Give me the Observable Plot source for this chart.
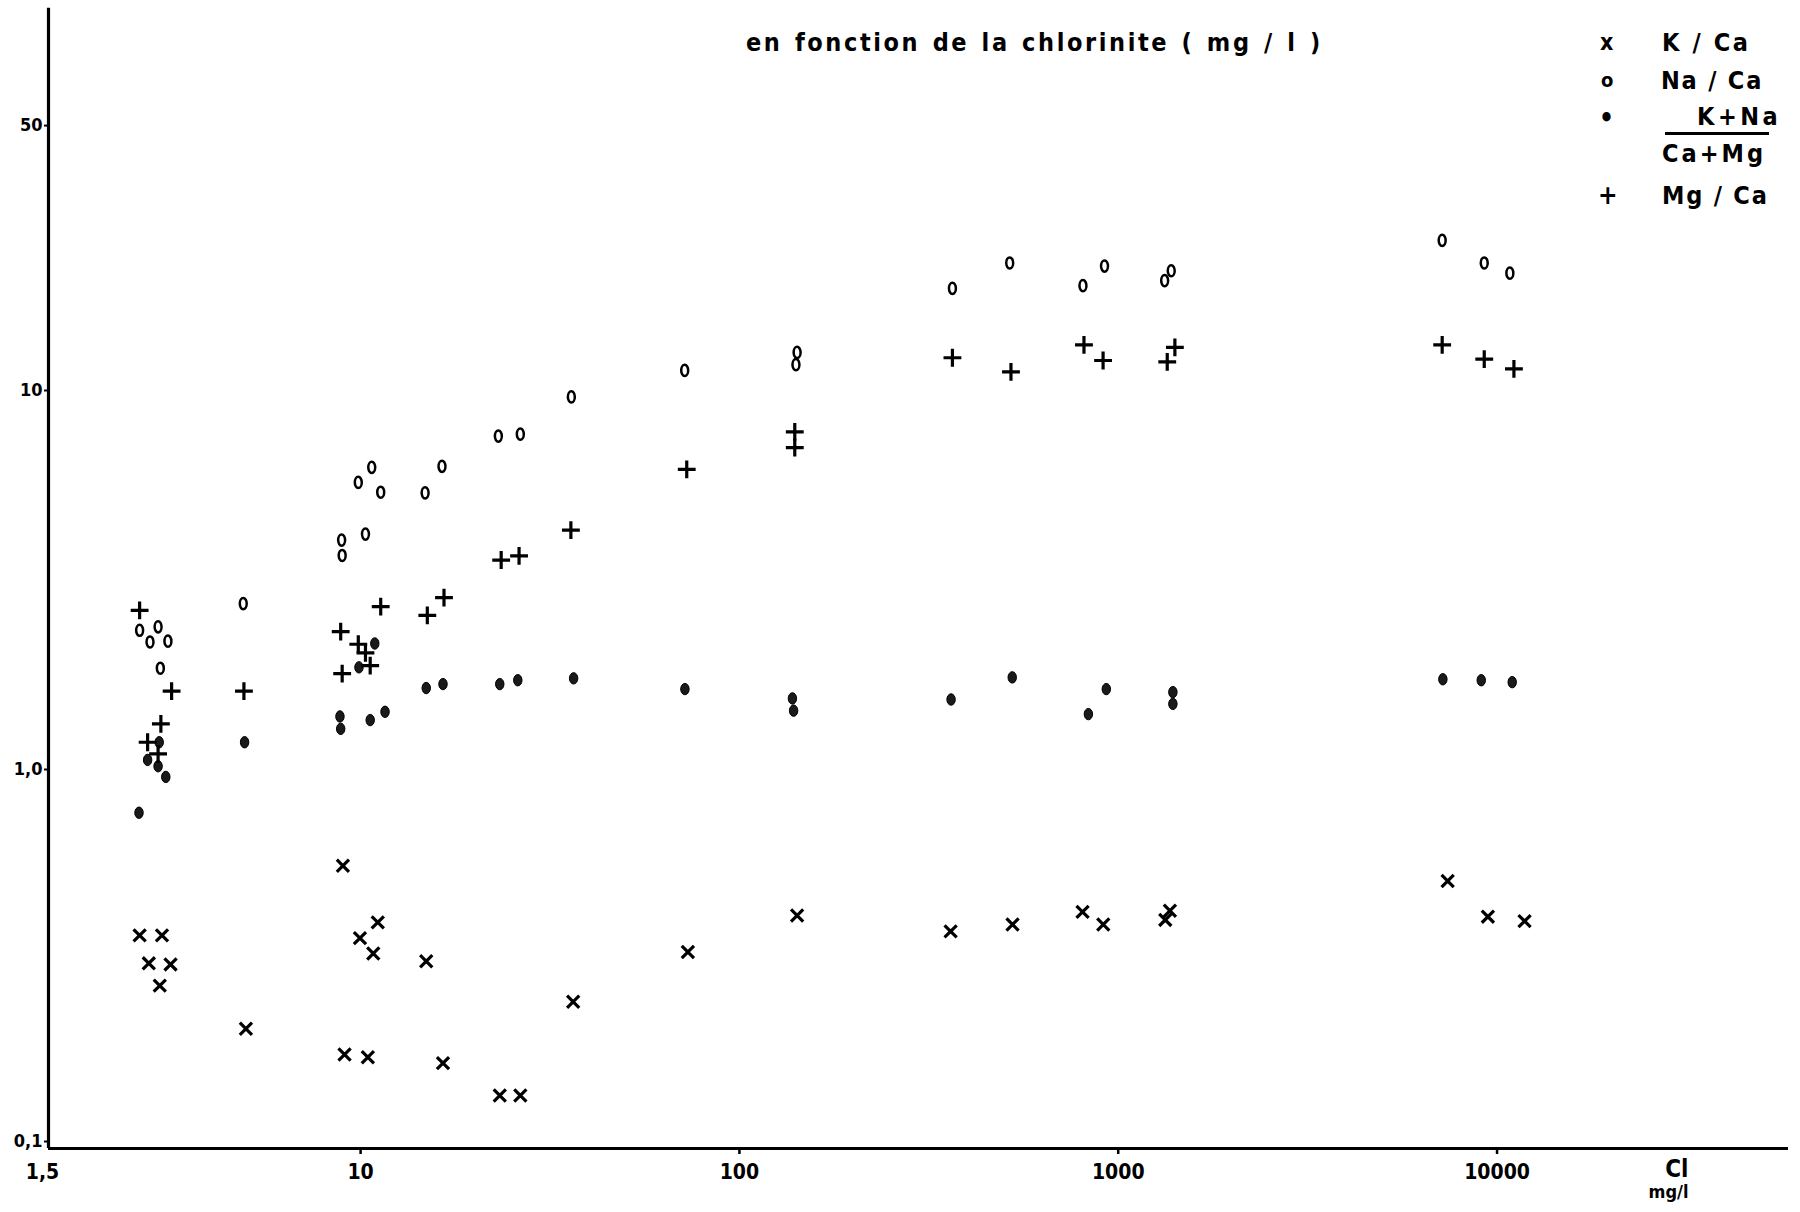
<!DOCTYPE html>
<html lang="fr">
<head>
<meta charset="utf-8">
<title>Rapports ioniques en fonction de la chlorinite</title>
<script src="https://cdn.jsdelivr.net/npm/d3@7"></script>
<script src="https://cdn.jsdelivr.net/npm/@observablehq/plot@0.6"></script>
<style>
  html, body { margin:0; padding:0; background:#fff; }
  #wrap { position:relative; width:1800px; height:1212px; overflow:hidden; background:#fff; }
  #wrap svg { position:absolute; left:0; top:0; }
  .lbl { position:absolute; font-family:"DejaVu Sans Condensed","DejaVu Sans",sans-serif; font-stretch:condensed; font-weight:bold; color:#000; white-space:nowrap; line-height:1; transform:translateY(-50%); }
</style>
</head>
<body>
<div id="wrap"></div>
<script>
// ---------- data ----------
const titleText = "en fonction de la chlorinite ( mg / l )";
const xTicks = [1.5, 10, 100, 1000, 10000];
const xTickLabels = ["1,5", "10", "100", "1000", "10000"];
const yTicks = [0.1, 1, 10, 50];
const yTickLabels = ["0,1", "1,0", "10", "50"];
const xAxisTitle = "Cl";
const xAxisUnit = "mg/l";

// K / Ca  (x)
const kCaX = [2.61, 2.99, 2.76, 3.15, 2.95, 4.98, 8.98, 9.96, 11.1, 10.8, 9.07, 10.45, 14.9, 16.5, 23.3, 26.4, 36.4, 73.1, 142, 361, 526, 805, 913, 1331, 1369, 7407, 9459, 11820];
const kCaY = [0.365, 0.365, 0.308, 0.306, 0.269, 0.207, 0.557, 0.359, 0.395, 0.327, 0.177, 0.174, 0.312, 0.168, 0.138, 0.138, 0.244, 0.330, 0.412, 0.374, 0.390, 0.421, 0.390, 0.401, 0.424, 0.508, 0.409, 0.398];

// Na / Ca  (o)
const naCaX = [2.61, 2.92, 2.78, 3.10, 2.96, 4.90, 8.91, 8.94, 10.3, 9.86, 10.7, 11.3, 14.8, 16.4, 23.1, 26.4, 36.0, 71.7, 141, 142, 365, 517, 807, 920, 1326, 1380, 7164, 9251, 10810];
const naCaY = [2.33, 2.38, 2.17, 2.18, 1.85, 2.74, 4.03, 3.67, 4.18, 5.72, 6.27, 5.39, 5.37, 6.31, 7.58, 7.67, 9.62, 11.3, 11.7, 12.6, 18.6, 21.7, 18.9, 21.3, 19.5, 20.7, 24.9, 21.7, 20.4];

// (K + Na) / (Ca + Mg)  (filled dot)
const kNaX = [2.94, 2.74, 2.92, 3.06, 2.60, 4.94, 10.9, 9.90, 8.82, 8.86, 10.6, 11.6, 14.9, 16.5, 23.3, 26.0, 36.5, 71.8, 138, 139, 362, 525, 834, 930, 1394, 1394, 7194, 9084, 10965];
const kNaY = [1.18, 1.06, 1.02, 0.956, 0.769, 1.18, 2.15, 1.86, 1.38, 1.28, 1.35, 1.42, 1.64, 1.68, 1.68, 1.72, 1.74, 1.63, 1.54, 1.43, 1.53, 1.75, 1.40, 1.63, 1.60, 1.49, 1.73, 1.72, 1.70];

// Mg / Ca  (+)
const mgCaX = [2.61, 3.17, 4.92, 2.97, 2.74, 2.92, 8.86, 9.86, 10.3, 10.6, 8.94, 11.3, 15.0, 16.6, 23.5, 26.2, 35.9, 72.6, 140, 140, 365, 521, 812, 912, 1347, 1411, 7164, 9251, 11080];
const mgCaY = [2.63, 1.61, 1.61, 1.32, 1.18, 1.10, 2.31, 2.14, 2.03, 1.88, 1.79, 2.69, 2.55, 2.84, 3.57, 3.66, 4.28, 6.19, 7.78, 7.07, 12.2, 11.2, 13.2, 12.0, 11.9, 13.0, 13.2, 12.1, 11.4];

// ---------- helpers ----------
const FONT = '"DejaVu Sans Condensed","DejaVu Sans",sans-serif';
const rows = (xs, ys) => xs.map((x, i) => ({x, y: ys[i]}));
const fmt = (ticks, labels) => d => labels[ticks.findIndex(t => Math.abs(t - d) < 1e-9)];

// upright ellipse symbol (like a typed "0")
function ellipseSymbol(ratio) {
  return {
    draw(ctx, size) {
      const ry = Math.sqrt(size / Math.PI), rx = ry * ratio, k = 0.5523;
      ctx.moveTo(0, -ry);
      ctx.bezierCurveTo(k * rx, -ry, rx, -k * ry, rx, 0);
      ctx.bezierCurveTo(rx, k * ry, k * rx, ry, 0, ry);
      ctx.bezierCurveTo(-k * rx, ry, -rx, k * ry, -rx, 0);
      ctx.bezierCurveTo(-rx, -k * ry, -k * rx, -ry, 0, -ry);
      ctx.closePath();
    }
  };
}
const openO = ellipseSymbol(0.62);
const filledO = ellipseSymbol(0.74);

const plot = Plot.plot({
  width: 1800,
  height: 1212,
  marginLeft: 48,
  marginRight: 12,
  marginTop: 11,
  marginBottom: 64,
  style: {fontFamily: FONT, fontWeight: "bold", background: "transparent", color: "#000", overflow: "visible"},
  x: {type: "log", domain: [1.5, 58800], label: null},
  y: {type: "log", domain: [0.1, 100], label: null},
  marks: [
    Plot.axisX(xTicks.slice(1), {tickFormat: fmt(xTicks, xTickLabels), tickSize: 6, tickPadding: 10, fontSize: 21, strokeWidth: 2.5, label: null}),
    Plot.axisX(xTicks.slice(0, 1), {tickFormat: fmt(xTicks, xTickLabels), tickSize: 0, tickPadding: 16, fontSize: 21, dx: -6, label: null}),
    Plot.axisY(yTicks.slice(1), {tickFormat: fmt(yTicks, yTickLabels), tickSize: 4, tickPadding: 2, fontSize: 18, strokeWidth: 2, label: null}),
    Plot.axisY(yTicks.slice(0, 1), {tickFormat: fmt(yTicks, yTickLabels), tickSize: 4, tickPadding: 2, fontSize: 18, dy: -7, strokeWidth: 2, label: null}),
    Plot.ruleX([1.5], {stroke: "#000", strokeWidth: 3.2, y1: 0.1, y2: 102}),
    Plot.ruleY([0.1], {stroke: "#000", strokeWidth: 3.2}),
    Plot.dot(rows(kCaX, kCaY), {x: "x", y: "y", symbol: "times", r: 5.6, stroke: "#000", strokeWidth: 3.2}),
    Plot.dot(rows(naCaX, naCaY), {x: "x", y: "y", symbol: openO, r: 5.6, fill: "none", stroke: "#000", strokeWidth: 2.5}),
    Plot.dot(rows(kNaX, kNaY), {x: "x", y: "y", symbol: filledO, r: 5.7, fill: "#1a1a1a", stroke: "#000", strokeWidth: 1}),
    Plot.dot(rows(mgCaX, mgCaY), {x: "x", y: "y", symbol: "plus", r: 5.8, stroke: "#000", strokeWidth: 3.2}),
    Plot.text([xAxisTitle], {text: d => d, frameAnchor: "bottom-right", dx: -100, dy: 21, fontSize: 24, lineAnchor: "middle"}),
    Plot.text([xAxisUnit], {text: d => d, frameAnchor: "bottom-right", dx: -100, dy: 44, fontSize: 18, lineAnchor: "middle"})
  ]
});

const wrap = document.getElementById("wrap");
wrap.appendChild(plot);

// ---------- title and legend (overlaid, top of the figure) ----------
function addLabel(text, left, top, size, extra) {
  const d = document.createElement("div");
  d.className = "lbl";
  d.textContent = text;
  d.style.left = left + "px";
  d.style.top = top + "px";
  d.style.fontSize = size + "px";
  if (extra) Object.assign(d.style, extra);
  wrap.appendChild(d);
  return d;
}
addLabel(titleText, 746, 42, 25, {letterSpacing: "2.6px", wordSpacing: "2px"});

const legendSymbols = ["x", "o", "\u2022", "+"];
const legendLabels = ["K / Ca", "Na / Ca", "K+Na", "Ca+Mg", "Mg / Ca"];
const ls = {letterSpacing: "2.6px"};
addLabel(legendSymbols[0], 1600, 42, 23);
addLabel(legendLabels[0], 1662, 42, 25, ls);
addLabel(legendSymbols[1], 1601, 80, 20);
addLabel(legendLabels[1], 1661, 80, 25, {letterSpacing: "1.8px"});
addLabel(legendSymbols[2], 1599, 118, 26);
addLabel(legendLabels[2], 1697, 116, 25, {letterSpacing: "3.5px"});
const bar = document.createElement("div");
bar.style.cssText = "position:absolute;left:1665px;top:132px;width:104px;height:3px;background:#000;";
wrap.appendChild(bar);
addLabel(legendLabels[3], 1662, 153, 25, {letterSpacing: "3px"});
addLabel(legendSymbols[3], 1598, 195, 26);
addLabel(legendLabels[4], 1662, 195, 25, {letterSpacing: "1.8px"});
</script>
</body>
</html>
